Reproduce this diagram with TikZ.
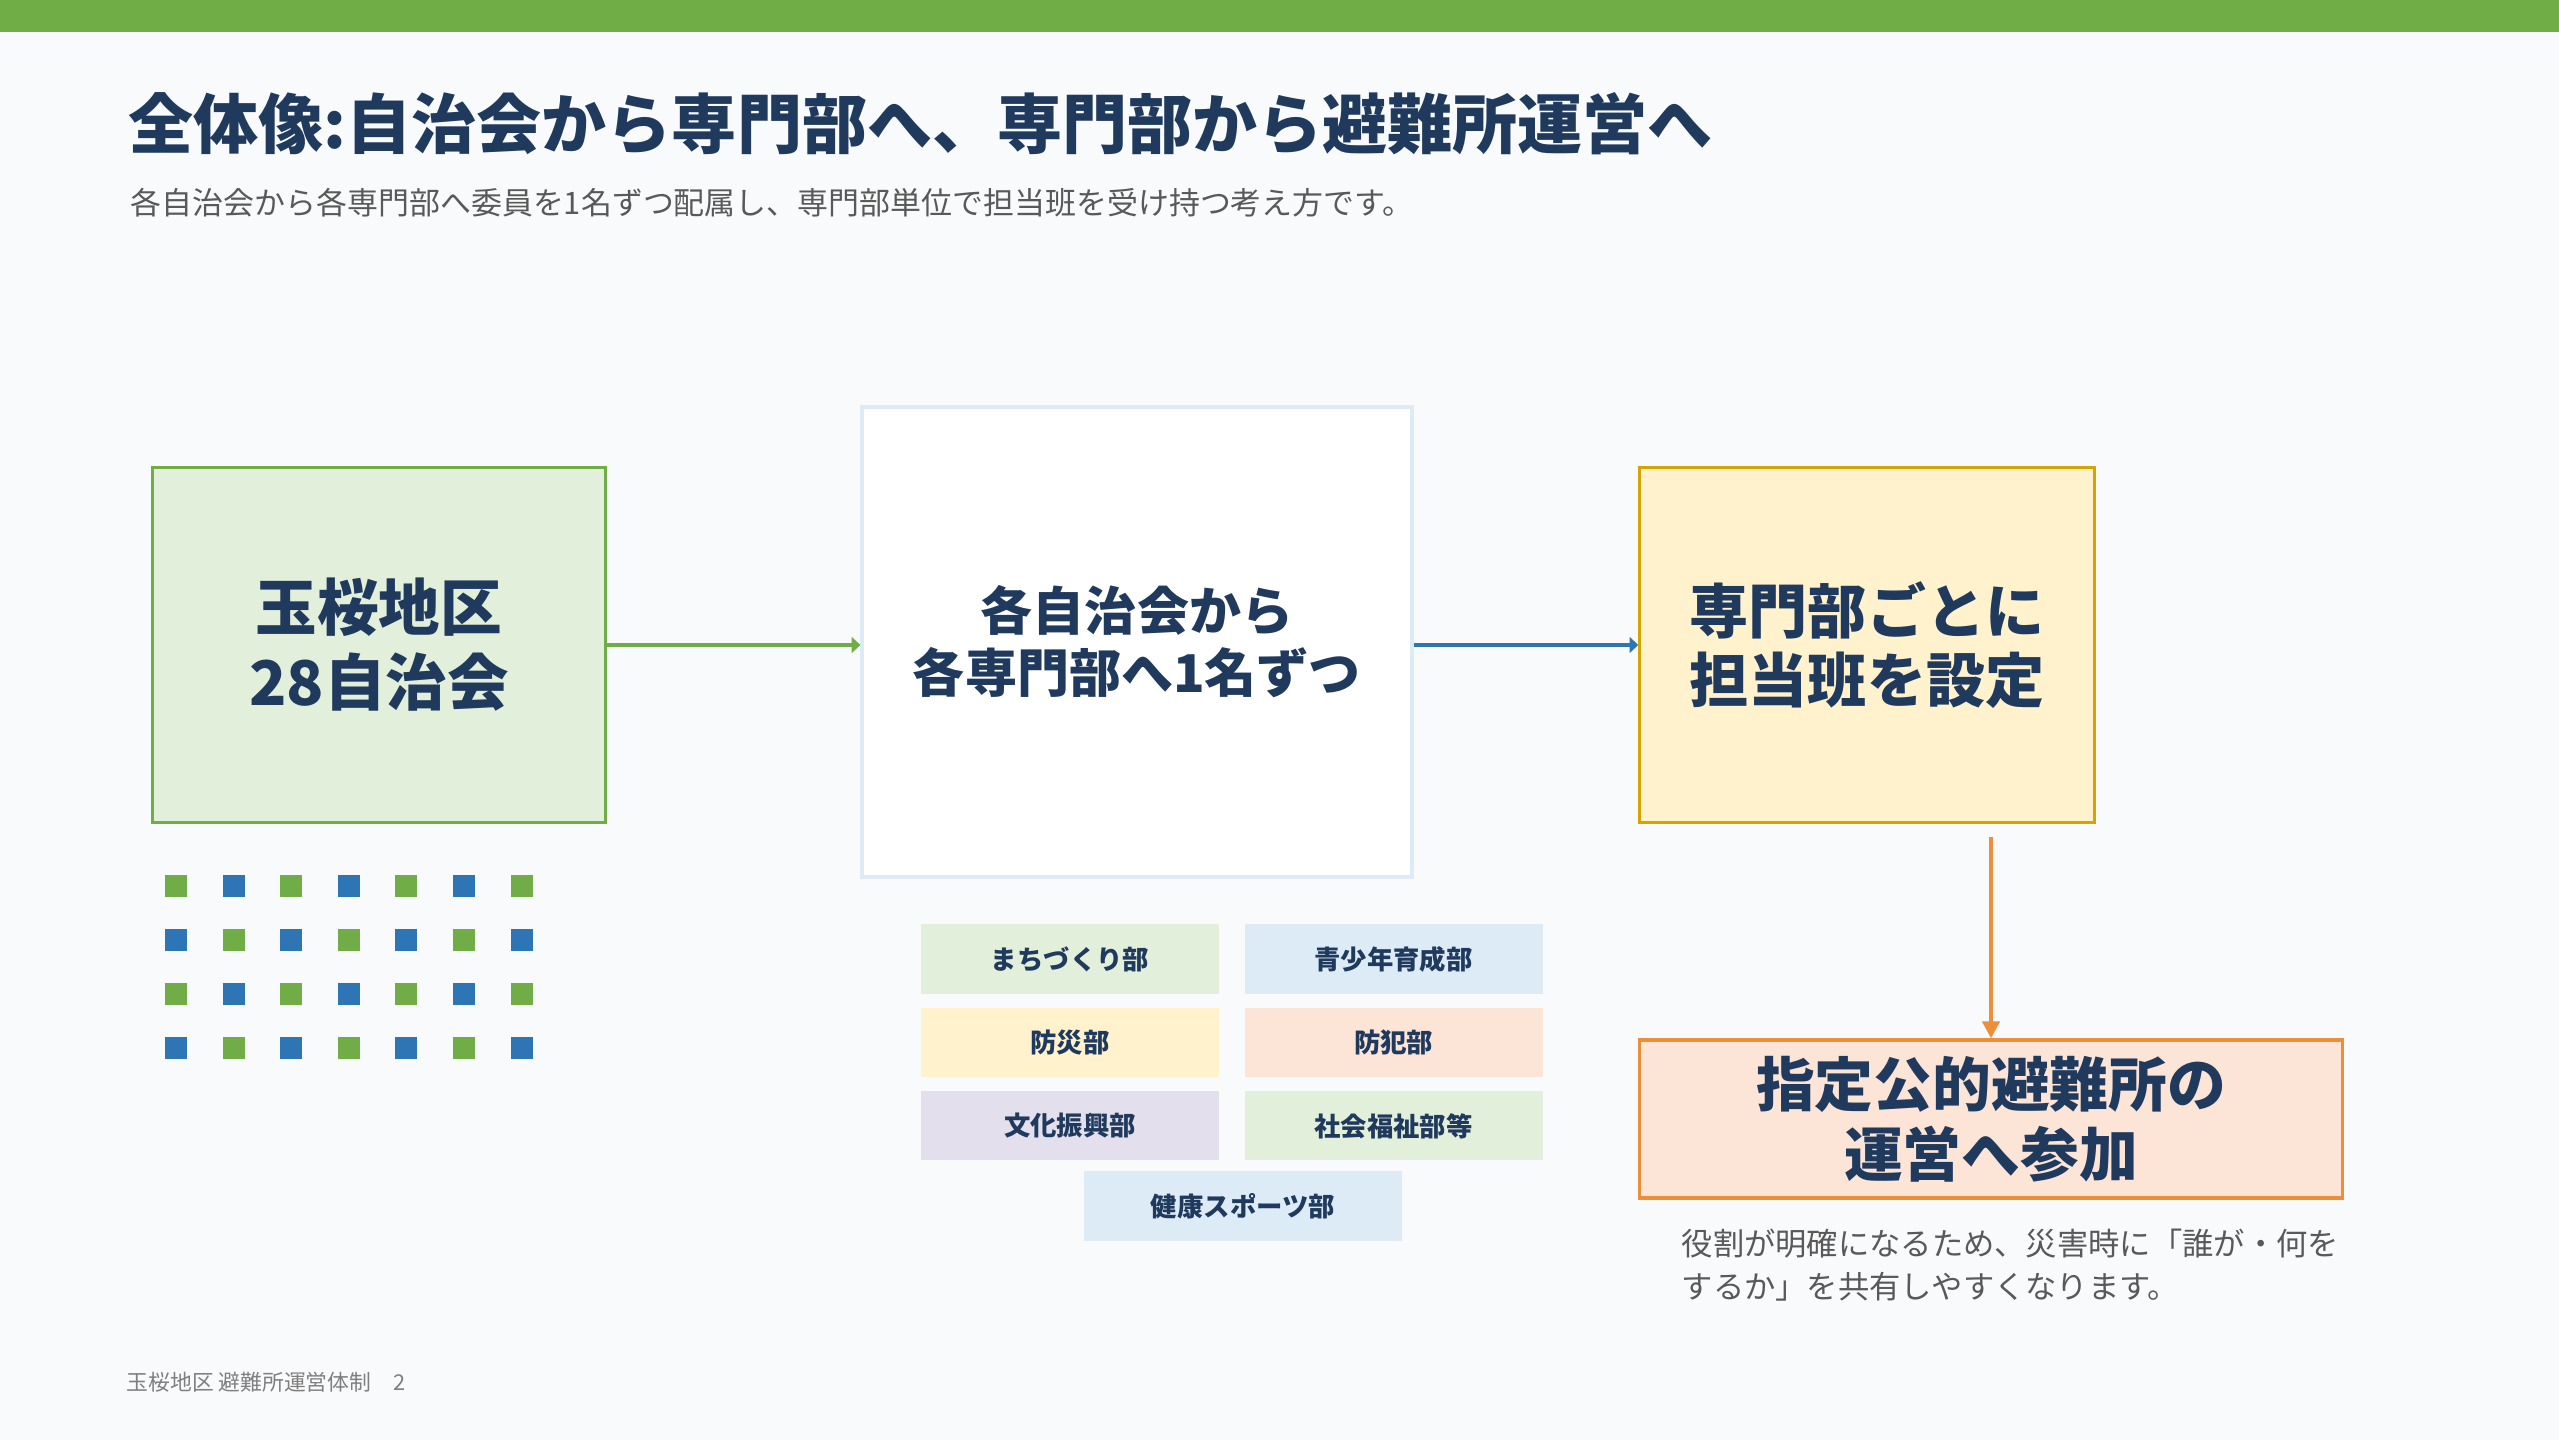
\documentclass[tikz,border=0pt]{standalone}
\usepackage{fontspec}
\setmainfont{Noto Sans CJK JP}
\usepackage{tikz}
\usetikzlibrary{positioning,arrows.meta}

\definecolor{paper}{HTML}{F8FAFC}
\definecolor{barGreen}{HTML}{70AD47}
\definecolor{barBlue}{HTML}{2E75B6}
\definecolor{barOrange}{HTML}{EB8F3B}
\definecolor{barGold}{HTML}{D6A400}
\definecolor{navy}{HTML}{203A5E}
\definecolor{noteGray}{HTML}{595959}
\definecolor{footGray}{HTML}{7F7F7F}
\definecolor{fillGreen}{HTML}{E2EFDA}
\definecolor{fillBlue}{HTML}{DDEBF7}
\definecolor{fillYellow}{HTML}{FFF2CC}
\definecolor{fillPeach}{HTML}{FCE4D6}
\definecolor{fillLilac}{HTML}{E4DFEC}

\begin{document}
\begin{tikzpicture}[x=0.01cm, y=-0.01cm,
    box/.style={draw, line width=0.9pt, inner sep=0pt, align=center, text=navy},
    dept/.style={fill=#1, minimum width=2.98cm, minimum height=0.69cm, inner sep=0pt,
        text=navy, font=\fontsize{7.5}{9}\selectfont\bfseries},
    flow/.style={line width=1.4pt, -{Triangle[length=2.5pt,width=4.5pt]}}
]
    \useasboundingbox (0,0) rectangle (2559,1440);
    \fill[paper] (0,0) rectangle (2559,1440);
    \fill[barGreen] (0,0) rectangle (2559,32);

    \node[anchor=west, inner sep=0pt, text=navy, font=\fontsize{18.5}{22}\selectfont\bfseries] (title) at (128,124)
        {全体像:自治会から専門部へ、専門部から避難所運営へ};
    \node[anchor=west, inner sep=0pt, text=noteGray, font=\fontsize{8.8}{11}\selectfont] (sub) at (130,203)
        {各自治会から各専門部へ委員を1名ずつ配属し、専門部単位で担当班を受け持つ考え方です。};

    \node[box, draw=barGreen, fill=fillGreen, minimum width=4.52cm, minimum height=3.54cm,
        font=\fontsize{17.5}{21.3}\selectfont\bfseries] (chiku) at (379,645) {玉桜地区\\28自治会};
    \node[box, draw=fillBlue, line width=1.1pt, fill=white, minimum width=5.49cm, minimum height=4.70cm,
        font=\fontsize{14.8}{17.6}\selectfont\bfseries] (kakubu) at (1137,642) {各自治会から\\各専門部へ1名ずつ};
    \node[box, draw=barGold, fill=fillYellow, minimum width=4.54cm, minimum height=3.54cm,
        font=\fontsize{16.8}{19.8}\selectfont\bfseries] (han) at (1867,645) {専門部ごとに\\担当班を設定};
    \node[box, draw=barOrange, fill=fillPeach, minimum width=7.03cm, minimum height=1.58cm,
        font=\fontsize{16.7}{19.8}\selectfont\bfseries] (sanka) at (1991,1119) {指定公的避難所の\\運営へ参加};
    \node[anchor=north west, inner sep=0pt, align=left, text=noteGray, font=\fontsize{8.9}{12.2}\selectfont]
        (note) at (1681,1228) {役割が明確になるため、災害時に「誰が・何を\\するか」を共有しやすくなります。};

    \draw[flow, barGreen] (chiku.east) -- (chiku.east -| kakubu.west);
    \draw[flow, barBlue] (kakubu.east |- chiku.east) -- (han.west);
    \draw[line width=1.4pt, barOrange, -{Triangle[length=4.8pt,width=4.8pt]}]
        (han.south -| sanka.north) ++(0,13) -- (sanka.north);

    \foreach \r in {0,...,3}{
        \foreach \c in {0,...,6}{
            \pgfmathtruncatemacro{\k}{mod(\r+\c,2)}
            \ifnum\k=0 \def\dc{barGreen}\else\def\dc{barBlue}\fi
            \fill[\dc] (176+57.6*\c-11, 886+54*\r-11) rectangle ++(22,22);
        }
    }

    \node[dept=fillGreen] (machi) at (1070,959) {まちづくり部};
    \node[dept=fillBlue, right=0.24cm of machi] (seisho) {青少年育成部};
    \node[dept=fillYellow, below=0.13cm of machi] (bosai) {防災部};
    \node[dept=fillPeach, below=0.13cm of seisho] (bohan) {防犯部};
    \node[dept=fillLilac, below=0.13cm of bosai] (bunka) {文化振興部};
    \node[dept=fillGreen, below=0.13cm of bohan] (fukushi) {社会福祉部等};
    \node[dept=fillBlue, minimum width=3.18cm] (kenko) at (1243,1206) {健康スポーツ部};

    \node[anchor=west, inner sep=0pt, text=footGray, font=\fontsize{6.2}{8}\selectfont] (foot) at (126,1382)
        {玉桜地区 避難所運営体制\quad 2};
\end{tikzpicture}
\end{document}
